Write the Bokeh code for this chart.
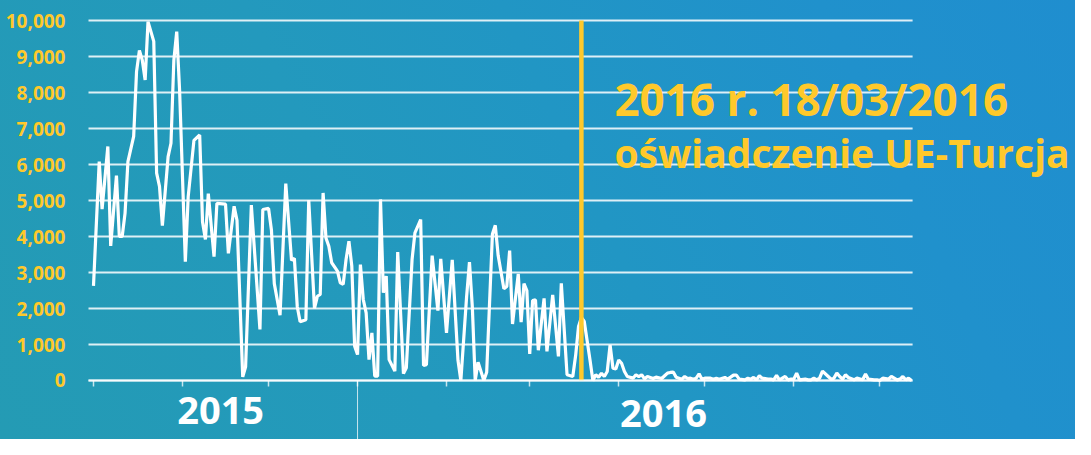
from bokeh.plotting import figure
from bokeh.models import Range1d, FixedTicker, NumeralTickFormatter, Label, LinearAxis
from bokeh.embed import file_html
from bokeh.resources import INLINE

# days since 2015-10-01 and daily sea arrivals
day = [0, 2, 3, 5, 6, 8, 9, 10, 11, 12, 14, 15, 16, 17, 18, 19, 21, 22, 23, 24,
       26, 27, 28, 29, 30, 32, 33, 35, 37, 38, 39, 40, 42, 43, 46, 47, 49, 50, 52, 53,
       55, 58, 59, 61, 62, 63, 65, 67, 69, 70, 71, 72, 74, 75, 77, 78, 79, 80, 81, 82,
       83, 85, 86, 87, 88, 89, 90, 91, 92, 93, 94, 95, 96, 97, 98, 99, 100, 101, 102, 103,
       105, 106, 108, 109, 111, 112, 114, 115, 116, 118, 120, 121, 123, 125, 127, 128, 130, 131, 132, 133,
       134, 136, 137, 139, 140, 141, 143, 144, 145, 146, 148, 149, 150, 151, 152, 153, 154, 155, 157, 158,
       160, 162, 163, 165, 167, 168, 169, 170, 171, 173, 174, 175, 176, 177, 178, 179, 180, 181, 182, 183,
       184, 185, 186, 188, 189, 190, 191, 192, 193, 195, 196, 198, 199, 200, 201, 202, 203, 205, 206, 207,
       208, 209, 210, 211, 212, 213, 215, 216, 217, 218, 220, 221, 222, 223, 224, 225, 227, 228, 229, 230,
       231, 232, 233, 235, 236, 237, 238, 239, 241, 242, 243, 244, 245, 246, 248, 249, 250, 251, 252, 253,
       254, 256, 257, 258, 259, 260, 261, 262, 263, 265, 266, 268, 269, 270, 272, 273, 274, 275, 277, 278,
       280, 281, 282, 283, 284, 285]
arrivals = [2630, 6080, 4760, 6500, 3740, 5690, 4000, 4000, 4650, 6080, 6780, 8580, 9170, 8900, 8350, 9970, 9420, 5760, 5390, 4300,
            6220, 6590, 8900, 9690, 8070, 3300, 5110, 6670, 6820, 4400, 3920, 5190, 3440, 4920, 4900, 3530, 4840, 4450, 100, 380,
            4870, 1420, 4750, 4780, 4180, 2690, 1815, 5470, 3340, 3390, 2050, 1630, 1690, 5010, 2000, 2340, 2390, 5210, 3960, 3730,
            3270, 3040, 2710, 2670, 3360, 3870, 3180, 950, 720, 3220, 2250, 1880, 580, 1320, 120, 120, 5030, 2440, 2900, 580,
            260, 3570, 190, 350, 3360, 4100, 4470, 420, 440, 3470, 1940, 3380, 1320, 3350, 560, 0, 2320, 3290, 2040, 0,
            510, 0, 230, 4070, 4310, 3470, 2550, 2610, 3610, 1570, 2960, 1620, 2690, 2500, 740, 2220, 2240, 840, 2280, 810,
            2380, 670, 2700, 160, 110, 700, 1500, 1750, 1640, 570, 0, 160, 90, 200, 110, 250, 990, 340, 320, 570,
            480, 250, 110, 65, 160, 110, 160, 46, 110, 56, 93, 56, 131, 206, 224, 234, 93, 37, 112, 56,
            65, 37, 65, 187, 37, 65, 65, 37, 65, 37, 84, 37, 93, 150, 150, 37, 19, 65, 37, 84,
            19, 131, 65, 37, 37, 19, 140, 19, 112, 19, 37, 37, 205, 19, 37, 19, 19, 65, 19, 65,
            262, 112, 37, 65, 205, 112, 37, 159, 84, 19, 65, 19, 178, 37, 19, 19, 0, 65, 37, 112,
            19, 37, 112, 19, 65, 0]

y_ticks = [0, 1000, 2000, 3000, 4000, 5000, 6000, 7000, 8000, 9000, 10000]
month_starts = [0, 31, 61, 92, 123, 152, 183, 213, 244, 274]
plot_start, plot_end = -1.74, 285.4
year_split = 92
statement_day = 170
year_labels = ["2015", "2016"]
annotation_lines = ["2016 r. 18/03/2016", "oświadczenie UE-Turcja"]

YELLOW = "#FFC92B"
FONT = "Open Sans"

p = figure(width=1075, height=439, output_backend="svg", toolbar_location=None,
           x_range=Range1d(-32.4, 342.16), y_range=Range1d(-1638.9, 10555.6),
           x_axis_location=None, y_axis_location=None,
           min_border_left=0, min_border_right=0, min_border_top=0, min_border_bottom=0)
p.background_fill_color = None
p.border_fill_color = None
p.outline_line_color = None
p.styles = {"background": "linear-gradient(65deg, #249BB4 0%, #2399BD 35%, #2196C4 55%, #2091CC 80%, #1F8ECF 100%)"}
p.grid.visible = False

# horizontal grid lines across the plotting area
p.segment(x0=[plot_start] * len(y_ticks), y0=y_ticks, x1=[plot_end] * len(y_ticks), y1=y_ticks,
          line_color="white", line_alpha=0.85, line_width=2)

yax = LinearAxis(fixed_location=plot_start)
yax.ticker = FixedTicker(ticks=y_ticks)
yax.formatter = NumeralTickFormatter(format="0,0")
yax.axis_line_color = None
yax.major_tick_line_color = None
yax.minor_tick_line_color = None
yax.major_label_text_color = YELLOW
yax.major_label_text_font = FONT
yax.major_label_text_font_style = "bold"
yax.major_label_text_font_size = "19px"
yax.major_label_standoff = 17
p.add_layout(yax, "left")

xax = LinearAxis(fixed_location=0, bounds=(plot_start, plot_end))
xax.ticker = FixedTicker(ticks=month_starts)
xax.axis_line_color = "white"
xax.axis_line_alpha = 0.75
xax.axis_line_width = 2
xax.major_tick_line_color = "white"
xax.major_tick_line_alpha = 0.75
xax.major_tick_line_width = 1.5
xax.major_tick_out = 6
xax.major_tick_in = 0
xax.minor_tick_line_color = None
xax.major_label_text_color = None
p.add_layout(xax, "below")

p.line(day, arrivals, line_color="white", line_width=3.2)
p.segment(x0=[statement_day], y0=[0], x1=[statement_day], y1=[10000],
          line_color=YELLOW, line_width=4.5)

# year divider below the axis
p.segment(x0=[year_split], y0=[0], x1=[year_split], y1=[-1638.9],
          line_color="white", line_alpha=0.75, line_width=1)

p.add_layout(Label(x=44.3, y=-842, text=year_labels[0], text_align="center",
                   text_baseline="alphabetic", text_font=FONT, text_font_style="bold",
                   text_font_size="38px", text_color="white"))
p.add_layout(Label(x=198.6, y=-925, text=year_labels[1], text_align="center",
                   text_baseline="alphabetic", text_font=FONT, text_font_style="bold",
                   text_font_size="38px", text_color="white"))

p.add_layout(Label(x=181.5, y=7825, text=annotation_lines[0], text_align="left",
                   text_baseline="alphabetic", text_font=FONT, text_font_style="bold",
                   text_font_size="44px", text_color=YELLOW))
p.add_layout(Label(x=181.5, y=6333, text=annotation_lines[1], text_align="left",
                   text_baseline="alphabetic", text_font=FONT, text_font_style="bold",
                   text_font_size="39px", text_color=YELLOW))

open("out.html", "w").write(file_html(p, INLINE))
